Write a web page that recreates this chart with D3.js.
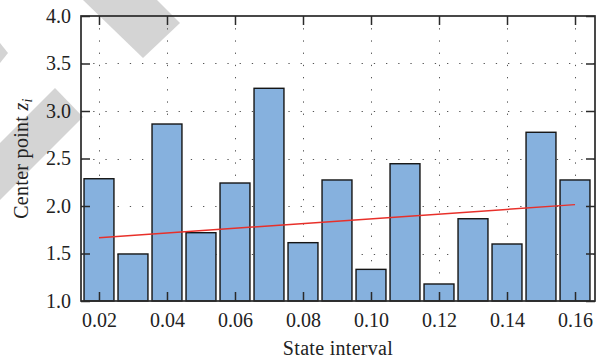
<!DOCTYPE html>
<html>
<head>
<meta charset="utf-8">
<script src="https://cdn.jsdelivr.net/npm/d3@7"></script>
<style>
  body { margin: 0; background: #fff; }
  text { font-family: "Liberation Serif", "Times New Roman", serif; fill: #222; }
</style>
</head>
<body>
<svg id="chart" width="597" height="361"></svg>
<script>
// state interval (x) and center point (bar height)
var intervals = [0.02, 0.03, 0.04, 0.05, 0.06, 0.07, 0.08, 0.09, 0.10, 0.11, 0.12, 0.13, 0.14, 0.15, 0.16];
var centers = [2.287, 1.495, 2.863, 1.719, 2.242, 3.239, 1.614, 2.274, 1.333, 2.445, 1.179, 1.866, 1.600, 2.776, 2.274];

// fitted trend line end points
var fitX = [0.02, 0.16];
var fitY = [1.666, 2.014];

var xTicks = [0.02, 0.04, 0.06, 0.08, 0.10, 0.12, 0.14, 0.16];
var yTicks = [1.0, 1.5, 2.0, 2.5, 3.0, 3.5, 4.0];

var margin = {top: 16, right: 2, bottom: 60, left: 81};
var width = 597 - margin.left - margin.right;
var height = 361 - margin.top - margin.bottom;

var svg = d3.select("#chart");

// grey watermark pieces behind the chart
var watermark = [
  [[83, 0], [157, 0], [180, 23], [143, 58]],
  [[0, 43], [8, 53], [0, 63]],
  [[55, 88], [83, 117], [0, 200], [0, 143]]
];
svg.append("g").selectAll("polygon")
  .data(watermark)
  .enter().append("polygon")
  .attr("points", function(d) { return d.map(function(p) { return p.join(","); }).join(" "); })
  .style("fill", "#d4d4d4");

var x = d3.scaleLinear().domain([0.01471, 0.16588]).range([0, width]);
var y = d3.scaleLinear().domain([1.0, 4.0]).range([height, 0]);
var barW = x(0.0288) - x(0.02);

var chart = svg.append("g")
  .attr("transform", "translate(" + margin.left + "," + margin.top + ")");

// dotted grid
chart.append("g").attr("class", "grid")
  .selectAll("line.v")
  .data(xTicks)
  .enter().append("line")
  .attr("x1", function(d) { return Math.round(x(d)) + 0.5; })
  .attr("x2", function(d) { return Math.round(x(d)) + 0.5; })
  .attr("y1", 0)
  .attr("y2", height)
  .style("stroke", "#555")
  .style("stroke-width", 1)
  .style("stroke-dasharray", "1.3,10.9");

chart.append("g").attr("class", "grid")
  .selectAll("line.h")
  .data(yTicks.slice(1, -1))
  .enter().append("line")
  .attr("x1", 0)
  .attr("x2", width)
  .attr("y1", function(d) { return Math.round(y(d)) + 0.5; })
  .attr("y2", function(d) { return Math.round(y(d)) + 0.5; })
  .style("stroke", "#555")
  .style("stroke-width", 1)
  .style("stroke-dasharray", "1.3,10.9");

// bars
chart.selectAll("rect.bar")
  .data(intervals)
  .enter().append("rect")
  .attr("class", "bar")
  .attr("x", function(d) { return x(d) - barW / 2; })
  .attr("y", function(d, i) { return y(centers[i]); })
  .attr("width", barW)
  .attr("height", function(d, i) { return y(1.0) - y(centers[i]); })
  .style("fill", "#86b1de")
  .style("stroke", "#151515")
  .style("stroke-width", 1.4);

// trend line
var line = d3.line()
  .x(function(d) { return x(d[0]); })
  .y(function(d) { return y(d[1]); });
chart.append("path")
  .datum(fitX.map(function(v, i) { return [v, fitY[i]]; }))
  .attr("d", line)
  .style("fill", "none")
  .style("stroke", "#e8302a")
  .style("stroke-width", 1.4);

// axes with inward ticks on all four sides
function styleAxis(g) {
  g.select(".domain").remove();
  g.selectAll(".tick line").style("stroke", "#2a2a2a").style("stroke-width", 1.5);
  g.selectAll(".tick text").style("font-size", "20px").style("fill", "#222");
}

chart.append("g")
  .attr("transform", "translate(0," + height + ")")
  .call(d3.axisBottom(x).tickValues(xTicks).tickSizeInner(-9).tickSizeOuter(0).tickPadding(12)
    .tickFormat(d3.format(".2f")))
  .call(styleAxis);

chart.append("g")
  .call(d3.axisTop(x).tickValues(xTicks).tickSizeInner(-9).tickSizeOuter(0).tickFormat(""))
  .call(styleAxis);

chart.append("g")
  .call(d3.axisLeft(y).tickValues(yTicks).tickSizeInner(-9).tickSizeOuter(0).tickPadding(10)
    .tickFormat(d3.format(".1f")))
  .call(styleAxis);

chart.append("g")
  .attr("transform", "translate(" + width + ",0)")
  .call(d3.axisRight(y).tickValues(yTicks).tickSizeInner(-9).tickSizeOuter(0).tickFormat(""))
  .call(styleAxis);

// frame
chart.append("rect")
  .attr("x", 0)
  .attr("y", 0)
  .attr("width", width)
  .attr("height", height)
  .style("fill", "none")
  .style("stroke", "#2a2a2a")
  .style("stroke-width", 1.7);

// axis titles
svg.append("text")
  .attr("x", margin.left + width / 2)
  .attr("y", 355)
  .attr("text-anchor", "middle")
  .style("font-size", "20px")
  .style("letter-spacing", "0.3px")
  .text("State interval");

var yTitle = svg.append("text")
  .attr("transform", "translate(28," + (margin.top + height / 2) + ") rotate(-90)")
  .attr("text-anchor", "middle")
  .style("font-size", "20px")
  .style("letter-spacing", "0.3px");
yTitle.append("tspan").text("Center point ");
yTitle.append("tspan").style("font-style", "italic").text("z");
yTitle.append("tspan").style("font-style", "italic").style("font-size", "14px").attr("dy", 4).text("i");
</script>
</body>
</html>
